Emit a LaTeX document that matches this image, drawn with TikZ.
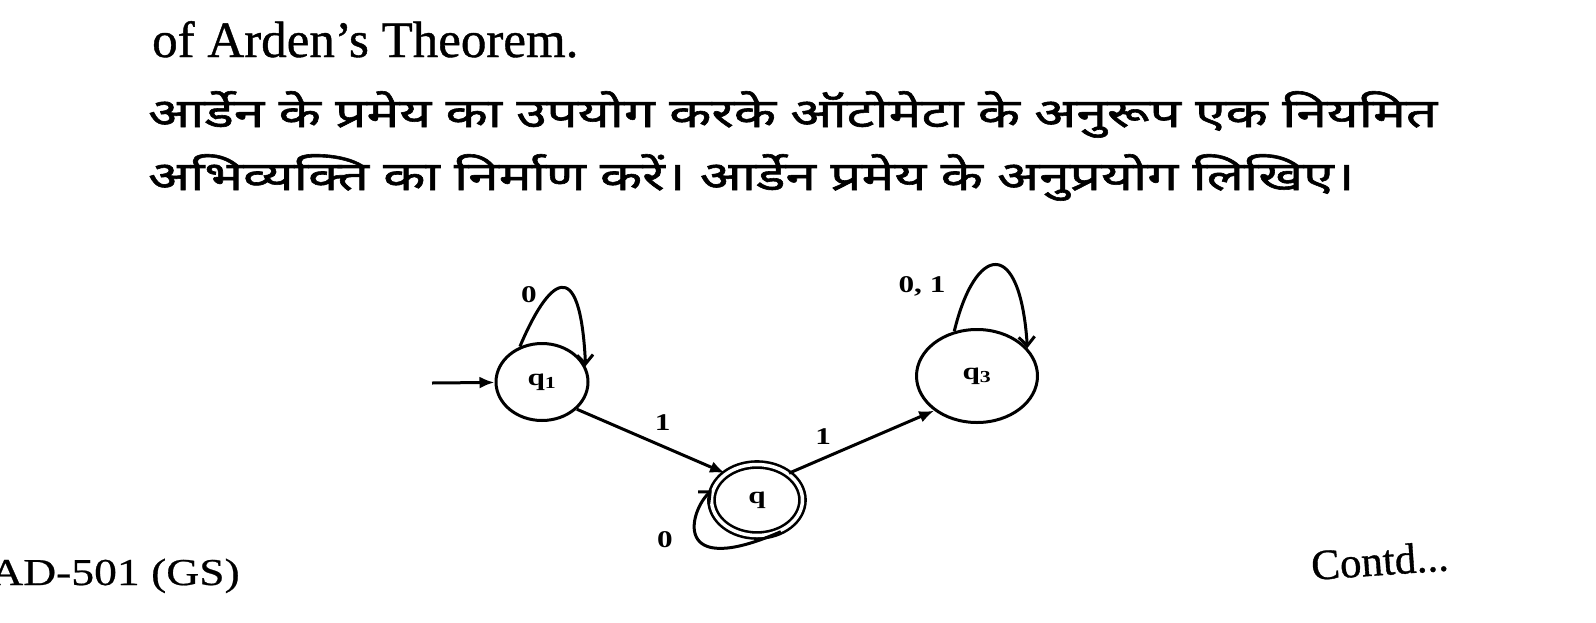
\documentclass[tikz,border=0pt]{standalone}
\usepackage{fontspec}
\setmainfont{Liberation Serif}
\newfontfamily\titlefont[FakeBold=0.8]{Liberation Serif}
\newfontfamily\hindifont[Script=Devanagari,FakeStretch=1.375,FakeBold=1.5]{Noto Sans}
\newfontfamily\labelfont[FakeStretch=1.3]{Liberation Serif}
\newfontfamily\footfont[FakeStretch=1.2,FakeBold=0.6]{Liberation Serif}
\usetikzlibrary{arrows.meta,shapes.geometric}

\begin{document}
\begin{tikzpicture}[x=1pt,y=-1pt]
	\useasboundingbox (0,0) rectangle (1596,622);
	\tikzstyle{txt}=[anchor=base west, inner sep=0pt]
	\tikzstyle{state}=[ellipse, draw, line width=3pt, inner sep=0pt, font=\labelfont\bfseries\fontsize{24}{24}\selectfont]
	\tikzstyle{lbl}=[inner sep=2pt, font=\labelfont\bfseries\fontsize{24}{24}\selectfont]
	\tikzstyle{edge}=[line width=3pt, -{Latex[length=15pt,width=12pt]}]
	\tikzstyle{selfloop}=[line width=3pt, -{Straight Barb[length=9pt,width=16pt,line width=3pt]}]

	\node (title) [txt, font=\titlefont\fontsize{51}{60}\selectfont] at (152,57) {of Arden’s Theorem.};
	\node (hindi1) [txt, font=\hindifont\fontsize{40}{48}\selectfont] at (148,127) {आर्डेन के प्रमेय का उपयोग करके ऑटोमेटा के अनुरूप एक नियमित};
	\node (hindi2) [txt, font=\hindifont\fontsize{40}{48}\selectfont] at (148,190) {अभिव्यक्ति का निर्माण करें। आर्डेन प्रमेय के अनुप्रयोग लिखिए।};

	\node (q1) [state, minimum width=92pt, minimum height=77pt] at (542,382) {q\textsubscript{1}};
	\node (q) [state, double, double distance=3.5pt, line width=2.6pt, minimum width=91pt, minimum height=71pt] at (757,500) {q};
	\node (q3) [state, minimum width=121pt, minimum height=93pt] at (977,376) {q\textsubscript{3}};
	\coordinate (start) at (432,383);

	\draw [edge] (start) -- (q1);
	\draw [edge] (q1.-38) -- (q.140);
	\draw [edge] (q.40) -- (q3.219);
	\draw [selfloop] (q1.122) .. controls (548,280) and (580,250) .. (q1.20);
	\draw [selfloop] (q3.117) .. controls (975,245) and (1020,235) .. (q3.29);
	\draw [selfloop] (q.-53) .. controls (670,580) and (690,510) .. (q.168);

	\path (q1.-38) -- (q.140) node (e1) [lbl, above=14pt, pos=0.58] {1};
	\path (q.40) -- (q3.219) node (e2) [lbl, above=12pt, pos=0.235] {1};
	\node (l1) [lbl] at (529,295) {0};
	\node (l3) [lbl] at (922,286) {0, 1};
	\node (l2) [lbl] at (665,540) {0};

	\node (code) [anchor=base east, inner sep=0pt, font=\footfont\fontsize{38}{46}\selectfont] at (240,585) {AD-501 (GS)};
	\node (contd) [txt, rotate=4, font=\titlefont\fontsize{43}{50}\selectfont] at (1312,580) {Contd...};
\end{tikzpicture}
\end{document}
